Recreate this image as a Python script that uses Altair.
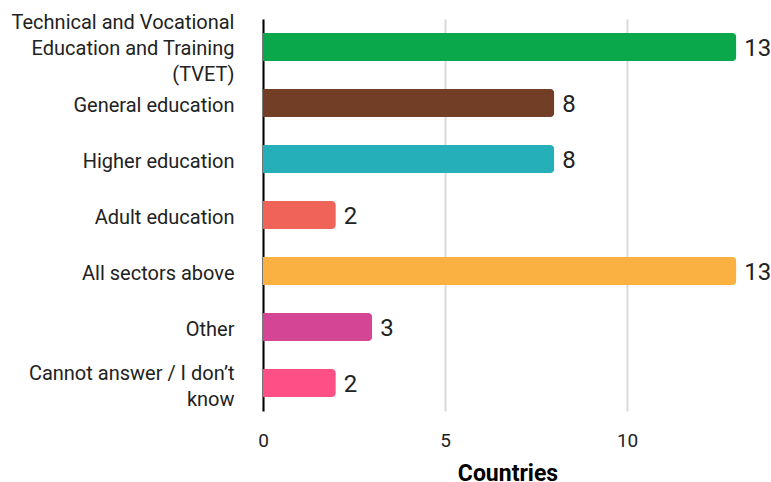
import altair as alt
import pandas as pd

categories = [
    "Technical and Vocational\nEducation and Training\n(TVET)",
    "General education",
    "Higher education",
    "Adult education",
    "All sectors above",
    "Other",
    "Cannot answer / I don’t\nknow",
]
values = [13, 8, 8, 2, 13, 3, 2]
colors = ["#0BA84B", "#723F26", "#24AFB9", "#EF6359", "#FAB142", "#D44695", "#FE5087"]

df = pd.DataFrame({"category": categories, "value": values, "color": colors})

y_enc = alt.Y(
    "category:N",
    sort=categories,
    scale=alt.Scale(paddingInner=0.5, paddingOuter=0.25),
    axis=alt.Axis(
        title=None,
        labelExpr="split(datum.value, '\\n')",
        labelFont="Roboto",
        labelFontSize=20,
        labelColor="#222222",
        labelLineHeight=26,
        labelBaseline="middle",
        labelOffset={
            "condition": [
                {"test": "indexof(datum.value, 'TVET') >= 0", "value": -24},
                {"test": "indexof(datum.value, 'know') >= 0", "value": -9},
            ],
            "value": 3,
        },
        labelLimit=400,
        labelPadding=29,
        ticks=False,
        domainColor="#000000",
        domainWidth=2,
        grid=False,
    ),
)

x_enc = alt.X(
    "value:Q",
    scale=alt.Scale(domain=[0, 13.43], nice=False),
    axis=alt.Axis(
        title="Countries",
        values=[0, 5, 10],
        grid=True,
        gridColor="#d9d9d9",
        gridWidth=2,
        domain=False,
        ticks=False,
        labelFlush=False,
        labelFont="Roboto",
        labelFontSize=19,
        labelColor="#222222",
        labelPadding=20,
        titleFont="Roboto",
        titleFontSize=23,
        titleFontWeight="bold",
        titleColor="#000000",
        titlePadding=12,
    ),
)

bars = alt.Chart(df).mark_bar(cornerRadiusEnd=4).encode(
    x=x_enc,
    y=y_enc,
    color=alt.Color("color:N", scale=None),
)

labels = alt.Chart(df).mark_text(
    align="left", baseline="middle", dx=8, dy=2, font="Roboto", fontSize=24, color="#222222"
).encode(
    x=alt.X("value:Q"),
    y=alt.Y("category:N", sort=categories),
    text=alt.Text("value:Q"),
)

chart = (
    alt.layer(bars, labels)
    .properties(
        width=489,
        height=392,
        background="white",
        autosize=alt.AutoSizeParams(type="none"),
        padding={"left": 263, "top": 19, "right": 19, "bottom": 71},
    )
    .configure_view(strokeWidth=0)
)

chart.save("out.html", embed_options={"renderer": "svg", "actions": False})
